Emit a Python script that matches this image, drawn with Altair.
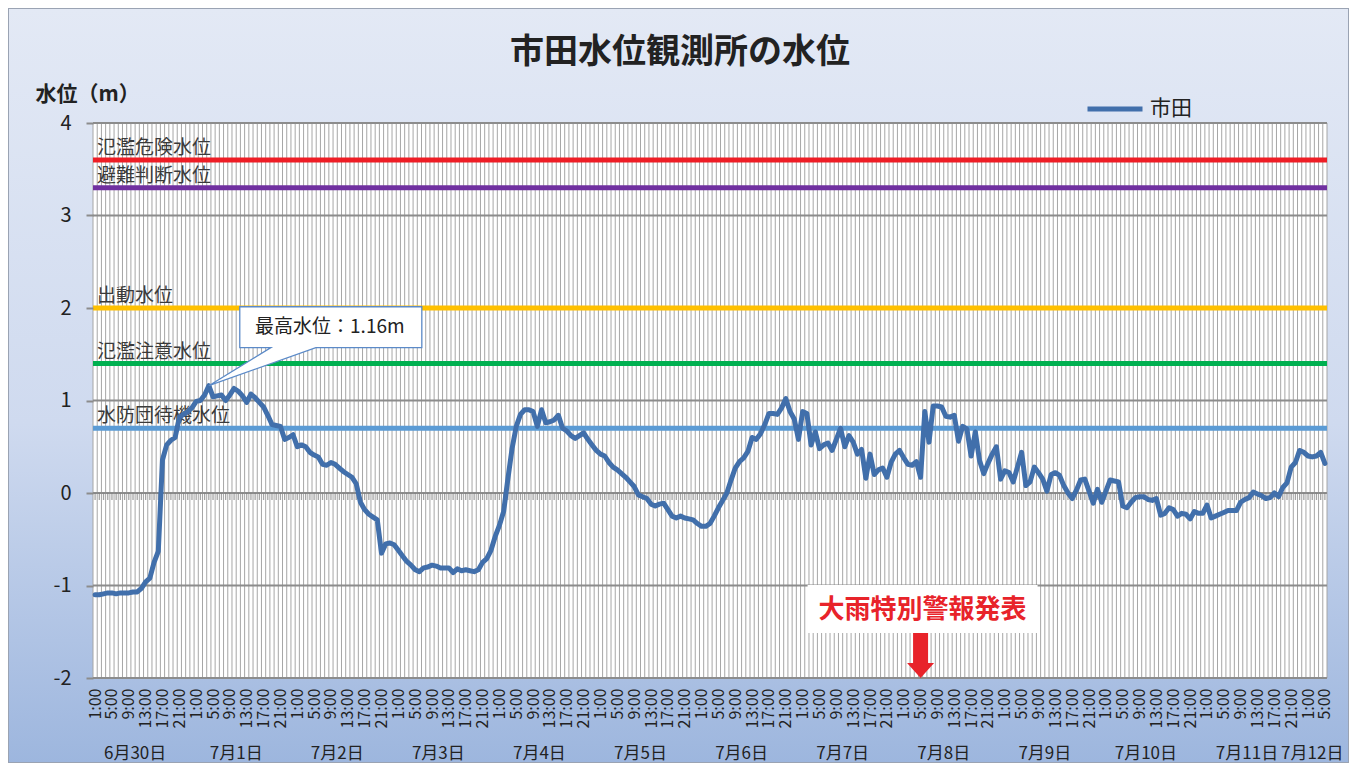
import altair as alt
import pandas as pd
import numpy as np

title_text = "市田水位観測所の水位"
series_name = "市田"
y_axis_title = "水位（m）"

# hourly water level, 6/30 1:00 .. 7/12 5:00
levels = [
    -1.10, -1.10, -1.09, -1.08, -1.08, -1.09, -1.08, -1.08, -1.08, -1.07,
    -1.07, -1.03, -0.96, -0.92, -0.75, -0.63, 0.36, 0.52, 0.57, 0.60,
    0.82, 0.85, 0.88, 0.92, 0.99, 1.00, 1.06, 1.16, 1.04, 1.05,
    1.06, 1.00, 1.06, 1.13, 1.10, 1.05, 0.98, 1.07, 1.03, 0.98,
    0.93, 0.84, 0.74, 0.73, 0.72, 0.58, 0.60, 0.63, 0.50, 0.52,
    0.50, 0.44, 0.41, 0.39, 0.31, 0.30, 0.33, 0.31, 0.27, 0.23,
    0.20, 0.17, 0.10, -0.10, -0.18, -0.23, -0.26, -0.29, -0.65, -0.55,
    -0.54, -0.56, -0.62, -0.68, -0.74, -0.78, -0.83, -0.85, -0.81, -0.80,
    -0.78, -0.79, -0.81, -0.81, -0.81, -0.86, -0.82, -0.84, -0.83, -0.84,
    -0.85, -0.83, -0.75, -0.71, -0.62, -0.47, -0.35, -0.20, 0.15, 0.48,
    0.72, 0.85, 0.90, 0.90, 0.88, 0.72, 0.90, 0.76, 0.77, 0.79,
    0.84, 0.70, 0.67, 0.62, 0.59, 0.62, 0.65, 0.58, 0.52, 0.46,
    0.42, 0.40, 0.33, 0.28, 0.25, 0.21, 0.17, 0.12, 0.07, -0.02,
    -0.04, -0.06, -0.12, -0.14, -0.12, -0.11, -0.18, -0.25, -0.27, -0.25,
    -0.27, -0.28, -0.29, -0.33, -0.36, -0.36, -0.33, -0.25, -0.16, -0.08,
    0.00, 0.14, 0.27, 0.34, 0.38, 0.45, 0.60, 0.58, 0.64, 0.74,
    0.86, 0.86, 0.85, 0.92, 1.02, 0.88, 0.80, 0.58, 0.88, 0.86,
    0.52, 0.66, 0.48, 0.52, 0.54, 0.46, 0.58, 0.70, 0.50, 0.62,
    0.55, 0.42, 0.47, 0.16, 0.42, 0.20, 0.25, 0.27, 0.17, 0.33,
    0.42, 0.46, 0.38, 0.31, 0.30, 0.34, 0.17, 0.88, 0.55, 0.94,
    0.94, 0.93, 0.83, 0.82, 0.84, 0.56, 0.72, 0.69, 0.40, 0.66,
    0.35, 0.21, 0.32, 0.42, 0.50, 0.15, 0.24, 0.22, 0.12, 0.28,
    0.44, 0.08, 0.12, 0.28, 0.22, 0.15, 0.02, 0.20, 0.22, 0.19,
    0.08, 0.00, -0.06, 0.03, 0.14, 0.15, 0.02, -0.11, 0.04, -0.10,
    0.02, 0.14, 0.13, 0.12, -0.14, -0.16, -0.10, -0.05, -0.04, -0.04,
    -0.07, -0.08, -0.06, -0.24, -0.22, -0.16, -0.18, -0.25, -0.22, -0.23,
    -0.28, -0.20, -0.22, -0.22, -0.13, -0.27, -0.25, -0.23, -0.21, -0.19,
    -0.19, -0.19, -0.10, -0.07, -0.05, 0.01, -0.01, -0.03, -0.06, -0.05,
    0.00, -0.04, 0.06, 0.11, 0.28, 0.33, 0.46, 0.44, 0.40, 0.39,
    0.40, 0.44, 0.32,
]

day_labels = ["6月30日", "7月1日", "7月2日", "7月3日", "7月4日", "7月5日", "7月6日",
              "7月7日", "7月8日", "7月9日", "7月10日", "7月11日", "7月12日"]

threshold_names = ["氾濫危険水位", "避難判断水位", "出動水位", "氾濫注意水位", "水防団待機水位"]
threshold_values = [3.6, 3.3, 2.0, 1.4, 0.7]
threshold_colors = ["#ee1d25", "#7030a0", "#ffc000", "#00b050", "#5b9bd5"]

y_ticks = [-2, -1, 0, 1, 2, 3, 4]
peak_label = "最高水位：1.16m"
warning_label = "大雨特別警報発表"
warning_index = 196  # 7/8 5:00

FONT = "Noto Sans CJK JP"
W, H = 1234, 555
n = len(levels)
idx = list(range(n))

df = pd.DataFrame({"i": idx, "level": levels, "series": series_name})
xscale = alt.Scale(domain=[-0.5, n - 0.5], nice=False, zero=False)
yscale = alt.Scale(domain=[-2, 4], nice=False, zero=False)
one = pd.DataFrame({"a": [0]})

x_axis = alt.Axis(
    values=list(range(0, n, 4)), labelExpr="((datum.value % 24) + 1) + ':00'",
    labelAngle=-90, labelFontSize=16, labelFont=FONT, labelColor="#222222",
    labelPadding=10, title=None, grid=False, domain=False, ticks=False,
    labelOverlap=False, zindex=1)
y_axis = alt.Axis(
    values=y_ticks, labelExpr="'' + datum.value", grid=False, domain=False,
    tickColor="#8c8c8c", tickSize=7, tickWidth=2,
    labelFontSize=20, labelFont=FONT, labelColor="#222222", labelPadding=15,
    title=y_axis_title, titleAngle=0, titleX=-58, titleY=-23, titleAlign="left",
    titleBaseline="alphabetic", titleFontSize=21, titleFont=FONT, titleFontWeight="bold",
    titleColor="#222222", zindex=1)


def X(field):
    return alt.X(field, type="quantitative", scale=xscale, axis=x_axis)


def Y(field):
    return alt.Y(field, type="quantitative", scale=yscale, axis=y_axis)


bg = alt.Chart(one).mark_rect(
    fill=alt.Gradient(
        gradient="linear", x1=0, y1=0, x2=0, y2=1,
        stops=[alt.GradientStop(color="#e3e9f5", offset=0),
               alt.GradientStop(color="#cfdaef", offset=0.55),
               alt.GradientStop(color="#9db6de", offset=1)]),
    stroke="#9aa3b3", strokeWidth=2,
).encode(x=alt.value(-85), x2=alt.value(W + 22), y=alt.value(-115), y2=alt.value(H + 85))

title_mark = alt.Chart(pd.DataFrame({"t": [title_text]})).mark_text(
    fontSize=34, font=FONT, fontWeight="bold", color="#222222", align="center", baseline="middle"
).encode(x=alt.value(587), y=alt.value(-70), text="t:N")

plotbg = alt.Chart(one).mark_rect(fill="white").encode(
    x=alt.value(0), x2=alt.value(W), y=alt.value(0), y2=alt.value(H))

grid_df = pd.DataFrame({"b": np.arange(n + 1) - 0.5})
vgrid = alt.Chart(grid_df).mark_rule(color="#a6a6a6", strokeWidth=1).encode(
    x=X("b"), y=alt.value(0), y2=alt.value(H))

hgrid = alt.Chart(pd.DataFrame({"v": y_ticks})).mark_rule(color="#8c8c8c", strokeWidth=2).encode(
    y=Y("v"))

zero_ticks = alt.Chart(pd.DataFrame({"i": idx, "z": [0] * n})).mark_tick(
    orient="vertical", size=7, thickness=1.3, color="#7f7f7f", yOffset=3.5
).encode(x=X("i"), y=Y("z"))

thr_df = pd.DataFrame({"name": threshold_names, "v": threshold_values})
thr_lines = alt.Chart(thr_df).mark_rule(strokeWidth=5).encode(
    y=Y("v"),
    stroke=alt.Stroke("name:N", scale=alt.Scale(domain=threshold_names, range=threshold_colors), legend=None))
thr_labels = alt.Chart(thr_df).mark_text(
    align="left", baseline="alphabetic", dy=-6, fontSize=19, font=FONT, color="#3a3a3a"
).encode(x=alt.value(4), y=Y("v"), text="name:N")

line = alt.Chart(df).mark_line(strokeWidth=5, strokeJoin="round", strokeCap="round").encode(
    x=X("i"),
    y=Y("level"),
    color=alt.Color("series:N", scale=alt.Scale(domain=[series_name], range=["#416fab"]),
                    legend=alt.Legend(orient="none", legendX=992, legendY=-44, title=None,
                                      symbolType="stroke", symbolSize=3025, symbolStrokeWidth=5,
                                      labelFontSize=21, labelFont=FONT, labelColor="#222222",
                                      labelOffset=5, padding=0)),
)

peak_i = int(np.argmax(levels))
peak_df = pd.DataFrame({"i": [peak_i], "level": [levels[peak_i]], "label": [peak_label]})
callout_path = "M0.258,-0.658 L1.775,-0.658 L1.775,-0.317 L0.892,-0.317 L0,0 L0.517,-0.317 L0.258,-0.317 Z"
callout = alt.Chart(peak_df).mark_point(
    shape=callout_path, size=57600, filled=True, fill="white", stroke="#5b8ac8",
    strokeWidth=1.3, opacity=1
).encode(x=X("i"), y=Y("level"))
callout_text = alt.Chart(peak_df).mark_text(
    fontSize=19, font=FONT, color="#222222", dx=121, dy=-59, align="center", baseline="middle"
).encode(x=X("i"), y=Y("level"), text="label:N")

warn_df = pd.DataFrame({"i": [warning_index], "v": [y_ticks[0]], "label": [warning_label]})
warn_box = alt.Chart(warn_df).mark_point(
    shape="M-1.13,-0.93 L1.17,-0.93 L1.17,-0.45 L-1.13,-0.45 Z", size=40000,
    filled=True, fill="white", opacity=1, strokeWidth=0
).encode(x=X("i"), y=Y("v"))
warn_arrow = alt.Chart(warn_df).mark_point(
    shape="M-0.075,-0.45 L0.075,-0.45 L0.075,-0.15 L0.135,-0.15 L0,0 L-0.135,-0.15 L-0.075,-0.15 Z",
    size=40000, filled=True, fill="#e8232a", opacity=1, strokeWidth=0
).encode(x=X("i"), y=Y("v"))
warn_text = alt.Chart(warn_df).mark_text(
    fontSize=26, font=FONT, fontWeight="bold", color="#e8232a", dx=2, dy=-68,
    align="center", baseline="middle"
).encode(x=X("i"), y=Y("v"), text="label:N")

day_pos = [24 * d + 9.5 for d in range(len(day_labels) - 1)] + [n - 4]
day_df = pd.DataFrame({"pos": day_pos, "label": day_labels})
day_text = alt.Chart(day_df).mark_text(
    fontSize=17, font=FONT, color="#222222", baseline="middle", align="center"
).encode(x=X("pos"), y=alt.value(H + 76), text="label:N")

chart = alt.layer(
    bg, title_mark, plotbg, vgrid, hgrid, zero_ticks, thr_lines, thr_labels, line,
    callout, callout_text, warn_box, warn_arrow, warn_text, day_text
).properties(
    width=W, height=H,
    padding={"left": 85, "top": 115, "right": 22, "bottom": 85},
    autosize=alt.AutoSizeParams(type="none"),
).configure_view(stroke=None)

chart.save("out.html", embed_options={"renderer": "svg", "actions": False})
